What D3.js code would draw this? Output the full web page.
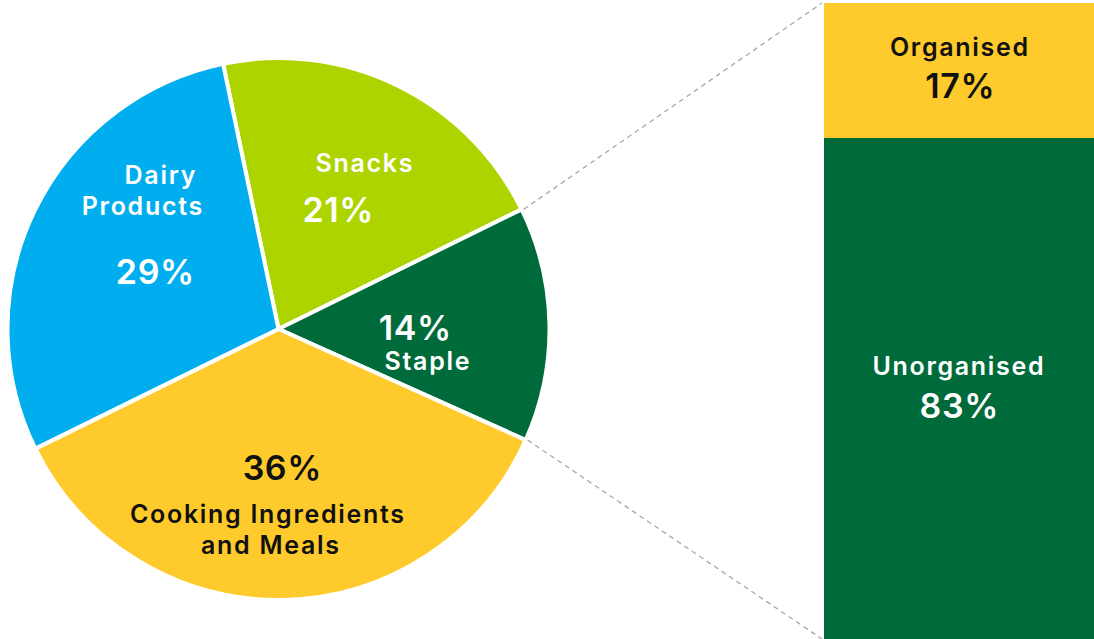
<!DOCTYPE html>
<html>
<head>
<meta charset="utf-8">
<script src="https://cdn.jsdelivr.net/npm/d3@7"></script>
<style>
  html, body { margin: 0; padding: 0; background: #fff; }
  svg { display: block; font-family: Inter, "Open Sans", sans-serif; }
</style>
</head>
<body>
<svg id="chart" width="1094" height="639"></svg>
<script>
// ---- data ----
const categories = ["Snacks", "Staple", "Cooking Ingredients and Meals", "Dairy Products"];
const shares = [21, 14, 36, 29];
const sliceColors = ["#AED400", "#006B3A", "#FFCA2B", "#00AEEF"];

const splitCategories = ["Organised", "Unorganised"];
const splitShares = [17, 83];
const splitColors = ["#FFCA2B", "#006B3A"];

// ---- layout ----
const svg = d3.select("#chart");
const W = 1094, H = 639;
const cx = 278.5, cy = 329, R = 271;
const startDeg = -11.8;

const pie = d3.pie().sort(null).value(d => d.v)
  .startAngle(startDeg * Math.PI / 180)
  .endAngle((startDeg + 360) * Math.PI / 180);
const arcs = pie(categories.map((c, i) => ({ c, v: shares[i], col: sliceColors[i] })));
const arc = d3.arc().innerRadius(0).outerRadius(R);

const g = svg.append("g").attr("transform", `translate(${cx},${cy})`);
g.selectAll("path").data(arcs).enter().append("path")
  .attr("d", arc)
  .attr("fill", d => d.data.col)
  .attr("stroke", "#fff")
  .attr("stroke-width", 4)
  .attr("stroke-linejoin", "round");

// ---- bar on right ----
const barX = 824, barW = 270, barTop = 3;
// vertical scale (bar extends below the visible area)
const y = d3.scaleLinear().domain([0, 100]).range([barTop, barTop + 794]);
let acc = 0;
const segs = splitShares.map((v, i) => {
  const s = { c: splitCategories[i], v, y0: acc, y1: acc + v, col: splitColors[i] };
  acc += v;
  return s;
});
svg.selectAll("rect.seg").data(segs).enter().append("rect")
  .attr("class", "seg")
  .attr("x", barX).attr("width", barW)
  .attr("y", d => y(d.y0)).attr("height", d => y(d.y1) - y(d.y0))
  .attr("fill", d => d.col);

// ---- connector lines ----
const snackStaple = arcs[1].startAngle;
const stapleCook = arcs[1].endAngle;
const pt = a => [cx + R * Math.sin(a), cy - R * Math.cos(a)];
const p1 = pt(snackStaple), p2 = pt(stapleCook);
svg.append("line")
  .attr("x1", p1[0] + 2).attr("y1", p1[1]).attr("x2", barX - 2).attr("y2", barTop)
  .attr("stroke", "#a8a8a8").attr("stroke-width", 1.3).attr("stroke-dasharray", "5,4");
svg.append("line")
  .attr("x1", p2[0] + 2).attr("y1", p2[1]).attr("x2", barX - 2).attr("y2", H)
  .attr("stroke", "#a8a8a8").attr("stroke-width", 1.3).attr("stroke-dasharray", "5,4");

// ---- labels ----
function label(x, yy, text, size, fill, ls) {
  const sp = ls || 0;
  svg.append("text").attr("x", x + sp / 2).attr("y", yy)
    .attr("text-anchor", "middle")
    .attr("font-size", size).attr("font-weight", 600)
    .attr("letter-spacing", sp)
    .attr("fill", fill).text(text);
}
const white = "#ffffff", black = "#111111";
const NS = 25, NL = 1.7, PS = 34, PL = 0.6;

// Dairy
label(160, 184, "Dairy", NS, white, NL);
label(142, 215, "Products", NS, white, NL);
label(155, 284, shares[3] + "%", PS, white, PL);
// Snacks
label(364, 172, categories[0], NS, white, NL);
label(338, 222, shares[0] + "%", PS, white, PL);
// Staple
label(415, 340, shares[1] + "%", PS, white, PL);
label(427, 370, categories[1], NS, white, NL);
// Cooking
label(282, 480, shares[2] + "%", PS, black, PL);
label(267, 523, "Cooking Ingredients", NS, black, NL);
label(270, 554, "and Meals", NS, black, NL);
// Bar
label(959, 56, splitCategories[0], NS, black, NL);
label(960, 98, splitShares[0] + "%", PS, black, PL);
label(958, 375, splitCategories[1], NS, white, NL);
label(959, 418, splitShares[1] + "%", PS, white, PL);
</script>
</body>
</html>
